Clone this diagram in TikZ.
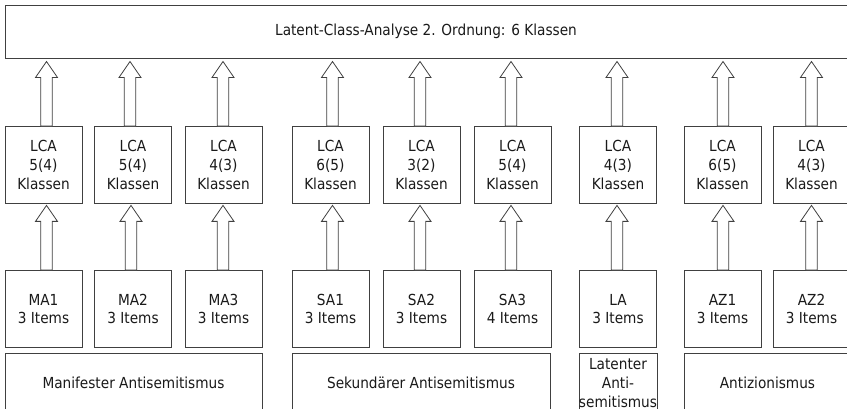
\documentclass[tikz,border=0pt]{standalone}
\usepackage{fontspec}
\setmainfont{DejaVu Sans Condensed}
\usetikzlibrary{calc}
\definecolor{linegray}{HTML}{404040}
\definecolor{textblack}{HTML}{1A1A1A}
\tikzset{
  box/.style={draw=linegray, line width=0.8pt, fill=white, rectangle, inner sep=0pt,
    align=center, text=textblack, font=\fontsize{15.2}{18.8}\selectfont},
  sqbox/.style={box, minimum width=77pt, minimum height=77pt},
  blockarr/.style={draw=linegray, line width=0.8pt, fill=white, line join=miter},
}
% #1 from node, #2 to node, #3 x offset, #4 gap below target
\newcommand{\blkarrow}[4]{%
  \draw[blockarr] let \p1=($(#1.north)+(#3,0)$), \p2=(#2.south) in
    (\x1-5.75pt,\y1) -- (\x1-5.75pt,\y2-#4-16pt) -- (\x1-11pt,\y2-#4-16pt) --
    (\x1,\y2-#4) -- (\x1+11pt,\y2-#4-16pt) -- (\x1+5.75pt,\y2-#4-16pt) --
    (\x1+5.75pt,\y1) -- cycle;}
\begin{document}
\begin{tikzpicture}[x=1pt,y=-1pt]
\useasboundingbox (0,0) rectangle (847,409);
\clip (0,0) rectangle (847,409);
\fill[white] (0,0) rectangle (847,409);

% top box
\node[box, minimum width=845pt, minimum height=52.7pt, anchor=north west] (top) at (5,5) {};
\node[text=textblack, font=\fontsize{15.2}{18.8}\selectfont, inner sep=0pt] (toptext) at (426,31.3) {Latent-Class-Analyse 2. Ordnung: 6 Klassen};

% LCA boxes
\node[sqbox] (l1) at (43.5,165) {LCA\\5(4)\\Klassen};
\node[sqbox] (l2) at (133,165) {LCA\\5(4)\\Klassen};
\node[sqbox] (l3) at (223.5,165) {LCA\\4(3)\\Klassen};
\node[sqbox] (l4) at (330.5,165) {LCA\\6(5)\\Klassen};
\node[sqbox] (l5) at (421.5,165) {LCA\\3(2)\\Klassen};
\node[sqbox] (l6) at (512.5,165) {LCA\\5(4)\\Klassen};
\node[sqbox] (l7) at (618,165) {LCA\\4(3)\\Klassen};
\node[sqbox] (l8) at (722.5,165) {LCA\\6(5)\\Klassen};
\node[sqbox] (l9) at (811.5,165) {LCA\\4(3)\\Klassen};

% item boxes
\node[sqbox] (i1) at (43.5,309) {MA1\\3 Items};
\node[sqbox] (i2) at (133,309) {MA2\\3 Items};
\node[sqbox] (i3) at (223.5,309) {MA3\\3 Items};
\node[sqbox] (i4) at (330.5,309) {SA1\\3 Items};
\node[sqbox] (i5) at (421.5,309) {SA2\\3 Items};
\node[sqbox] (i6) at (512.5,309) {SA3\\4 Items};
\node[sqbox] (i7) at (618,309) {LA\\3 Items};
\node[sqbox] (i8) at (722.5,309) {AZ1\\3 Items};
\node[sqbox] (i9) at (811.5,309) {AZ2\\3 Items};

% category boxes
\node[box, minimum width=257pt, minimum height=60pt] (c1) at (133.5,383) {Manifester Antisemitismus};
\node[box, minimum width=258pt, minimum height=60pt] (c2) at (421,383) {Sekundärer Antisemitismus};
\node[box, minimum width=78pt, minimum height=60pt] (c3) at (618,383) {Latenter\\Anti-\\semitismus};
\node[box, minimum width=167pt, minimum height=60pt] (c4) at (767.5,383) {Antizionismus};

% arrows LCA -> top
\blkarrow{l1}{top}{3}{3pt}
\blkarrow{l2}{top}{-3}{3pt}
\blkarrow{l3}{top}{-0.5}{3pt}
\blkarrow{l4}{top}{2}{3pt}
\blkarrow{l5}{top}{-1.5}{3pt}
\blkarrow{l6}{top}{-1.5}{3pt}
\blkarrow{l7}{top}{-1}{3pt}
\blkarrow{l8}{top}{0.5}{3pt}
\blkarrow{l9}{top}{0}{3pt}

% arrows items -> LCA
\blkarrow{i1}{l1}{3}{1.5pt}
\blkarrow{i2}{l2}{-2}{1.5pt}
\blkarrow{i3}{l3}{-0.5}{1.5pt}
\blkarrow{i4}{l4}{2}{1.5pt}
\blkarrow{i5}{l5}{-1.5}{1.5pt}
\blkarrow{i6}{l6}{-1.5}{1.5pt}
\blkarrow{i7}{l7}{-1}{1.5pt}
\blkarrow{i8}{l8}{0.5}{1.5pt}
\blkarrow{i9}{l9}{0}{1.5pt}
\end{tikzpicture}
\end{document}
